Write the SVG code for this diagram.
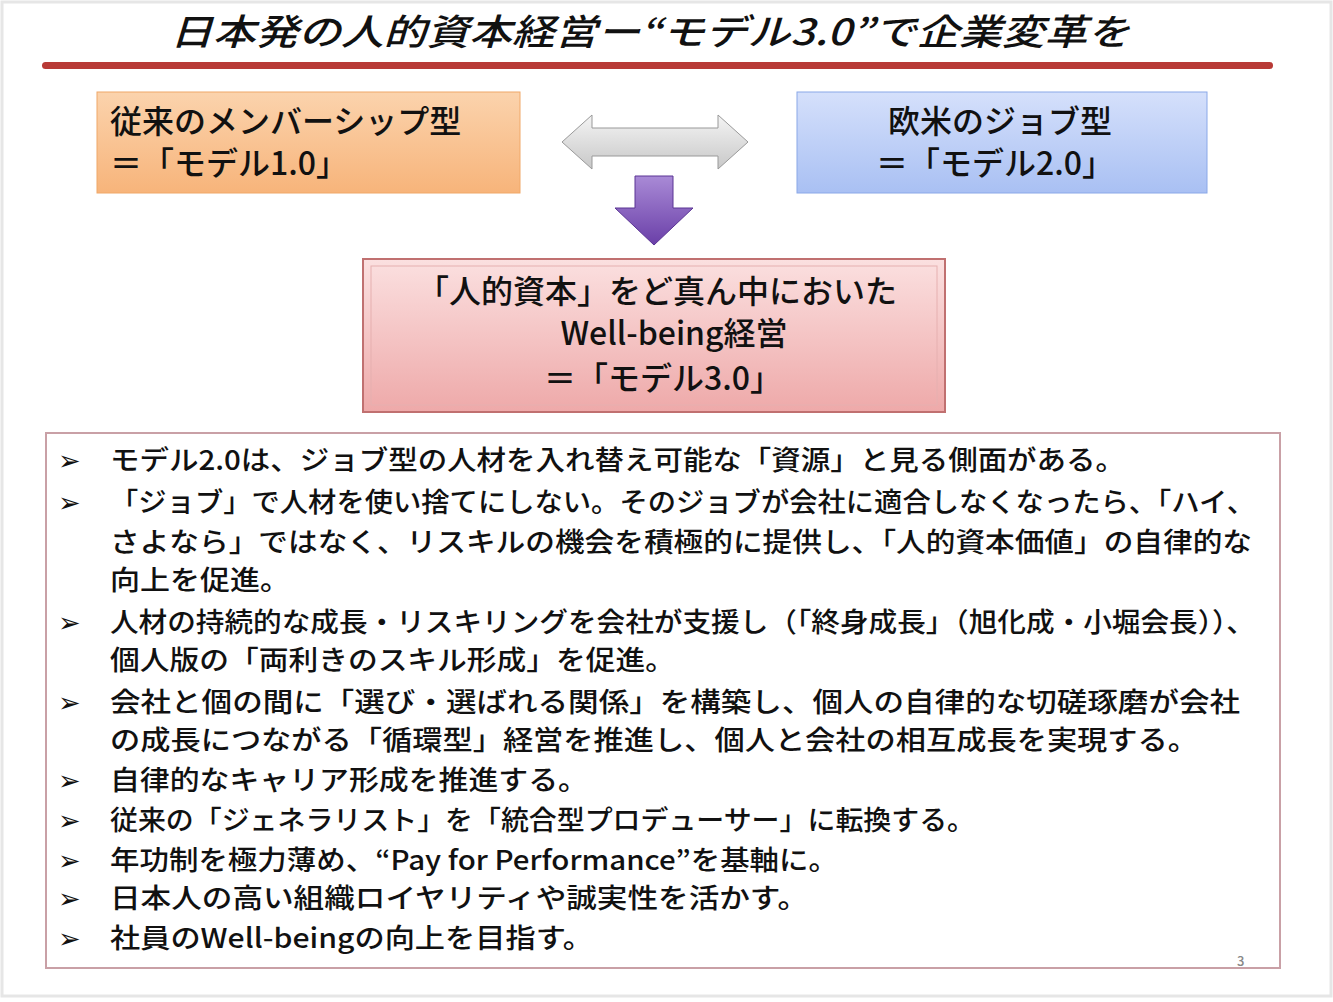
<svg xmlns="http://www.w3.org/2000/svg" width="1333" height="1002" viewBox="0 0 1333 1002">
<defs>
<style>
text{font-family:"Noto Sans CJK JP","Noto Sans",sans-serif;fill:#111;font-weight:500}
.b{font-size:27px}
.h{font-size:32px}
</style>
<linearGradient id="go" x1="0" y1="0" x2="0" y2="1"><stop offset="0" stop-color="#fbd3ad"/><stop offset="1" stop-color="#f7b47a"/></linearGradient>
<linearGradient id="gb" x1="0" y1="0" x2="0" y2="1"><stop offset="0" stop-color="#d5e0fb"/><stop offset="1" stop-color="#a9c0f3"/></linearGradient>
<linearGradient id="gp" x1="0" y1="0" x2="0" y2="1"><stop offset="0" stop-color="#fbe0e0"/><stop offset="1" stop-color="#eea9a9"/></linearGradient>
<linearGradient id="gg" x1="0" y1="0" x2="0" y2="1"><stop offset="0" stop-color="#f4f4f4"/><stop offset="1" stop-color="#c8c8c8"/></linearGradient>
<linearGradient id="gv" x1="0" y1="0" x2="0" y2="1"><stop offset="0" stop-color="#a98ad6"/><stop offset="1" stop-color="#6a3fa8"/></linearGradient>
</defs>
<rect width="1333" height="1002" fill="#fff"/>
<rect x="2" y="2" width="1329" height="994" fill="none" stroke="#e6e6e6" stroke-width="3"/>
<g id="title">
<text x="650" y="45" text-anchor="middle" font-size="36" font-style="italic" textLength="960" lengthAdjust="spacingAndGlyphs">日本発の人的資本経営ー“モデル3.0”で企業変革を</text>
<rect x="42" y="62" width="1231" height="7" rx="3.5" fill="#b83a36"/>
</g>
<g id="model1">
<rect x="97" y="92" width="423" height="101" fill="url(#go)" stroke="#f0a868"/>
<text class="h" x="110" y="133">従来のメンバーシップ型</text>
<text class="h" x="110" y="175">＝「モデル1.0」</text>
</g>
<g id="model2">
<rect x="797" y="92" width="410" height="101" fill="url(#gb)" stroke="#8aa8e8"/>
<text class="h" x="1000" y="133" text-anchor="middle">欧米のジョブ型</text>
<text class="h" x="995" y="175" text-anchor="middle">＝「モデル2.0」</text>
</g>
<g id="connectors">
<path d="M562,142 L592,115 L592,128 L718,128 L718,115 L748,142 L718,169 L718,156 L592,156 L592,169 Z" fill="url(#gg)" stroke="#999"/>
<path d="M635,176 L673,176 L673,208 L693,208 L654,245 L615,208 L635,208 Z" fill="url(#gv)" stroke="#5a3494"/>
</g>
<g id="model3">
<rect x="363" y="259" width="582" height="153" fill="url(#gp)" stroke="#c07070" stroke-width="2"/>
<rect x="371" y="266" width="566" height="139" fill="none" stroke="#e6b0b0" stroke-width="1"/>
<text class="h" x="657" y="303" text-anchor="middle">「人的資本」をど真ん中においた</text>
<text class="h" x="674" y="345" text-anchor="middle">Well-being経営</text>
<text class="h" x="663" y="390" text-anchor="middle">＝「モデル3.0」</text>
</g>
<g id="list">
<rect x="46" y="433" width="1234" height="535" fill="#fff" stroke="#c9a0a6" stroke-width="2"/>
<g class="b">
<text x="58" y="470">➢</text><text x="110" y="470" textLength="1015" lengthAdjust="spacingAndGlyphs">モデル2.0は、ジョブ型の人材を入れ替え可能な「資源」と見る側面がある。</text>
<text x="58" y="512">➢</text><text x="110" y="512" textLength="1145" lengthAdjust="spacingAndGlyphs">「ジョブ」で人材を使い捨てにしない。そのジョブが会社に適合しなくなったら、「ハイ、</text>
<text x="110" y="552" textLength="1142" lengthAdjust="spacingAndGlyphs">さよなら」ではなく、リスキルの機会を積極的に提供し、「人的資本価値」の自律的な</text>
<text x="110" y="590" textLength="180" lengthAdjust="spacingAndGlyphs">向上を促進。</text>
<text x="58" y="632">➢</text><text x="110" y="632" textLength="1145" lengthAdjust="spacingAndGlyphs">人材の持続的な成長・リスキリングを会社が支援し（「終身成長」（旭化成・小堀会長））、</text>
<text x="110" y="670" textLength="565" lengthAdjust="spacingAndGlyphs">個人版の「両利きのスキル形成」を促進。</text>
<text x="58" y="712">➢</text><text x="110" y="712" textLength="1130" lengthAdjust="spacingAndGlyphs">会社と個の間に「選び・選ばれる関係」を構築し、個人の自律的な切磋琢磨が会社</text>
<text x="110" y="750" textLength="1088" lengthAdjust="spacingAndGlyphs">の成長につながる「循環型」経営を推進し、個人と会社の相互成長を実現する。</text>
<text x="58" y="790">➢</text><text x="110" y="790" textLength="478" lengthAdjust="spacingAndGlyphs">自律的なキャリア形成を推進する。</text>
<text x="58" y="830">➢</text><text x="110" y="830" textLength="865" lengthAdjust="spacingAndGlyphs">従来の「ジェネラリスト」を「統合型プロデューサー」に転換する。</text>
<text x="58" y="870">➢</text><text x="110" y="870" textLength="728" lengthAdjust="spacingAndGlyphs">年功制を極力薄め、“Pay for Performance”を基軸に。</text>
<text x="58" y="908">➢</text><text x="110" y="908" textLength="698" lengthAdjust="spacingAndGlyphs">日本人の高い組織ロイヤリティや誠実性を活かす。</text>
<text x="58" y="948">➢</text><text x="110" y="948" textLength="483" lengthAdjust="spacingAndGlyphs">社員のWell-beingの向上を目指す。</text>
</g>
<text x="1237" y="966" font-size="13" style="fill:#888">3</text>
</g>
</svg>
